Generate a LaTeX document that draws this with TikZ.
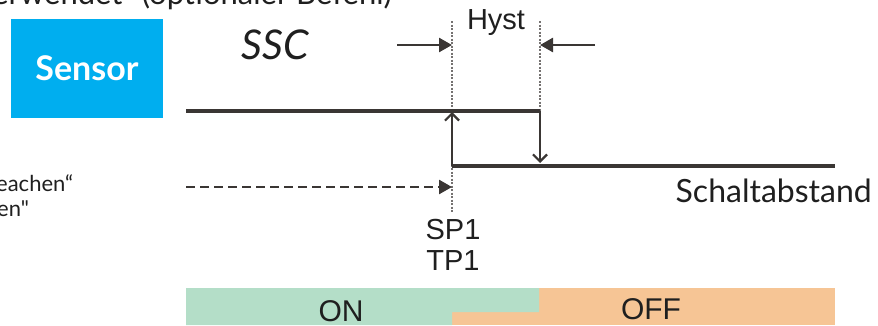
\documentclass[tikz,border=0pt]{standalone}
\usepackage{fontspec}
\setmainfont{Liberation Sans}
\newfontfamily\geofont{Lato}
\usetikzlibrary{arrows.meta, positioning, calc}
\definecolor{sensorblue}{RGB}{0,174,239}
\definecolor{ongreen}{RGB}{180,222,200}
\definecolor{offorange}{RGB}{246,197,149}
\definecolor{linegray}{RGB}{58,54,52}
\tikzset{
    signal/.style={draw=linegray, line width=3.2pt},
    edgemark/.style={draw=linegray!70, line width=1.6pt, dash pattern=on 2pt off 1.5pt},
    jumparrow/.style={-{Straight Barb[length=7pt,width=14pt,line width=2.2pt]}, draw=linegray, line width=2.8pt},
    hystarrow/.style={-{Triangle[length=13pt,width=14pt]}, draw=linegray, line width=2.6pt},
    lbl/.style={inner sep=0pt, text=black!88}
}
\begin{document}
\begin{tikzpicture}[x=1pt, y=-1pt]
\useasboundingbox (0,0) rectangle (878,325);
\clip (0,0) rectangle (878,325);

% =========================
% Testi tagliati ai bordi
% =========================
\node[lbl, anchor=base east, font=\geofont\fontsize{31}{34}\selectfont] (toptext) at (392,4) {verwendet“ (optionaler Befehl)};
\node[lbl, anchor=base west, font=\geofont\fontsize{22}{24}\selectfont] (lefttext1) at (-4,191) {eachen“};
\node[lbl, anchor=base west, font=\geofont\fontsize{22}{24}\selectfont] (lefttext2) at (-3,216) {en"};

% =========================
% Sensor e SSC
% =========================
\node[fill=sensorblue, minimum width=152pt, minimum height=99pt, inner sep=0pt,
      text=white, font=\geofont\bfseries\fontsize{34}{36}\selectfont] (sensor) at (87,68.5) {Sensor};
\node[lbl, font=\geofont\itshape\fontsize{41}{44}\selectfont] (ssc) at (275,45) {SSC};

% =========================
% Barra ON / OFF
% =========================
\fill[offorange] (452,288) rectangle (835,325);
\fill[ongreen] (186,288) -- (539,288) -- (539,312) -- (452,312) -- (452,325) -- (186,325) -- cycle;
\node[lbl, font=\fontsize{30}{32}\selectfont] (on) at (341,311) {ON};
\node[lbl, font=\fontsize{30}{32}\selectfont] (off) at (651,309) {OFF};

% =========================
% Punti del ciclo di isteresi
% =========================
\coordinate (hiL) at (186,111);
\coordinate (hiR) at (540,111);
\coordinate (loL) at (452,166);
\coordinate (loR) at (835,166);
\coordinate (dropEnd) at (540,163);
\coordinate (riseEnd) at (452,112);

% linee tratteggiate verticali
\coordinate (spTop) at (452,21);
\coordinate (spBot) at (452,212);
\coordinate (rpTop) at (540,21);
\draw[edgemark] (spTop) -- (spBot);
\draw[edgemark] (rpTop) -- (hiR);

% segnale
\draw[signal] (hiL) -- (hiR);
\draw[signal] (loL) -- (loR);
\draw[jumparrow] (hiR) -- (dropEnd);
\draw[jumparrow] (loL) -- (riseEnd);

% =========================
% Isteresi
% =========================
\node[lbl, font=\fontsize{29}{31}\selectfont] (hyst) at (496,23) {Hyst};
\coordinate (hystL) at (397,45);
\coordinate (hystR) at (595,45);
\draw[hystarrow] (hystL) -- (spTop |- hystL);
\draw[hystarrow] (hystR) -- (rpTop |- hystR);

% avvicinamento
\coordinate (approach) at (186,187);
\draw[hystarrow, dash pattern=on 9pt off 5pt] (approach) -- (spTop |- approach);

% =========================
% Etichette
% =========================
\node[lbl, font=\fontsize{29}{31}\selectfont] (sp1) at (453,230) {SP1};
\node[lbl, below=10pt of sp1, font=\fontsize{29}{31}\selectfont] (tp1) {TP1};
\node[lbl, anchor=east, font=\geofont\fontsize{32}{35}\selectfont] (schalt) at (872,191) {Schaltabstand};

\end{tikzpicture}
\end{document}
